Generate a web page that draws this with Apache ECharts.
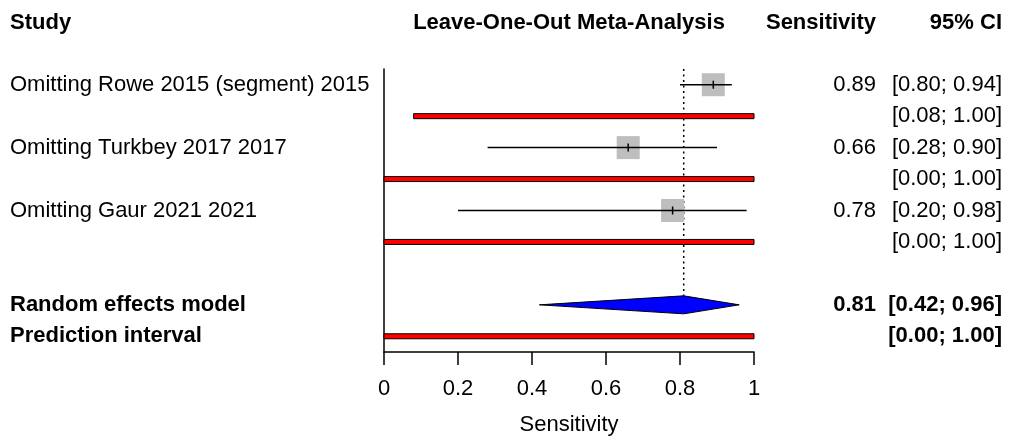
<!DOCTYPE html>
<html>
<head>
<meta charset="utf-8">
<script src="https://cdn.jsdelivr.net/npm/echarts@6/dist/echarts.min.js"></script>
<style>
  html, body { margin: 0; padding: 0; background: #fff; }
  #chart { width: 1009px; height: 436px; }
</style>
</head>
<body>
<div id="chart"></div>
<script>
// Leave-one-out sensitivity estimates
const studies = ['Omitting Rowe 2015 (segment) 2015', 'Omitting Turkbey 2017 2017', 'Omitting Gaur 2021 2021'];
const estimate = [0.89, 0.66, 0.78];
const ciLower = [0.80, 0.28, 0.20];
const ciUpper = [0.94, 0.90, 0.98];
const predLower = [0.08, 0.00, 0.00];
const predUpper = [1.00, 1.00, 1.00];

// Pooled random effects model and its prediction interval
const pooledLabel = 'Random effects model';
const pooledEst = 0.81;
const pooledLower = 0.42;
const pooledUpper = 0.96;
const pooledPredLabel = 'Prediction interval';
const pooledPredLower = 0.00;
const pooledPredUpper = 1.00;

const xTicks = [0, 0.2, 0.4, 0.6, 0.8, 1];

const FONT = '"Liberation Sans", Arial, sans-serif';
const FS = 22;
const X_LABEL = 10;
const X_EST = 876;
const X_CI = 1002;

const fmt = v => v.toFixed(2);
const ciText = (lo, hi) => '[' + fmt(lo) + '; ' + fmt(hi) + ']';

function txt(x, y, s, align, bold) {
  return {
    type: 'text',
    style: {
      x: x, y: y, text: s, align: align, verticalAlign: 'middle',
      fill: '#000', font: (bold ? 'bold ' : '') + FS + 'px ' + FONT
    }
  };
}

// row layout: each study row followed by its prediction-interval row
const studyData = studies.map((s, i) => [i * 2, estimate[i], ciLower[i], ciUpper[i], s]);
const predData = studies.map((s, i) => [i * 2 + 1, predLower[i], predUpper[i]]);
predData.push([8, pooledPredLower, pooledPredUpper, pooledPredLabel]);
const pooledRow = 7;

const chart = echarts.init(document.getElementById('chart'), null, { renderer: 'canvas' });

chart.setOption({
  animation: false,
  backgroundColor: '#fff',
  grid: { left: 384, right: 255, top: 69, bottom: 84, containLabel: false, outerBoundsMode: 'none' },
  xAxis: {
    type: 'value', min: 0, max: 1, interval: 0.2,
    axisLine: { show: true, onZero: false, lineStyle: { color: '#000', width: 1.5 } },
    axisTick: { show: true, length: 13, lineStyle: { color: '#000', width: 1.5 } },
    axisLabel: {
      color: '#000', fontFamily: FONT, fontSize: FS, margin: 26,
      formatter: v => String(xTicks.find(t => Math.abs(t - v) < 1e-9) ?? v)
    },
    splitLine: { show: false },
    name: 'Sensitivity', nameLocation: 'middle', nameGap: 62,
    nameTextStyle: { color: '#000', fontFamily: FONT, fontSize: FS }
  },
  yAxis: {
    type: 'value', min: -0.5, max: 8.5, inverse: true,
    axisLine: { show: true, onZero: false, lineStyle: { color: '#000', width: 1.5 } },
    axisTick: { show: false }, axisLabel: { show: false }, splitLine: { show: false }
  },
  graphic: [
    txt(X_LABEL, 23, 'Study', 'left', true),
    txt(569, 23, 'Leave-One-Out Meta-Analysis', 'center', true),
    txt(X_EST, 23, 'Sensitivity', 'right', true),
    txt(X_CI, 23, '95% CI', 'right', true)
  ],
  series: [
    {
      // dotted line at the pooled estimate, down to the diamond
      type: 'custom', z: 1,
      data: [[pooledEst, pooledRow]],
      renderItem: (params, api) => {
        const top = api.coord([api.value(0), -0.5]);
        const bot = api.coord([api.value(0), api.value(1)]);
        return {
          type: 'line',
          shape: { x1: top[0], y1: top[1], x2: bot[0], y2: bot[1] - 9 },
          style: { stroke: '#000', lineWidth: 1.5, lineDash: [2, 3.5] }
        };
      }
    },
    {
      // individual leave-one-out estimates
      type: 'custom', z: 2,
      data: studyData,
      renderItem: (params, api) => {
        const row = api.value(0);
        const c = api.coord([api.value(1), row]);
        const lo = api.coord([api.value(2), row]);
        const hi = api.coord([api.value(3), row]);
        const sz = 23;
        const i = params.dataIndex;
        return {
          type: 'group',
          children: [
            { type: 'rect', shape: { x: c[0] - sz / 2, y: c[1] - sz / 2, width: sz, height: sz },
              style: { fill: '#BEBEBE' } },
            { type: 'line', shape: { x1: lo[0], y1: c[1], x2: hi[0], y2: c[1] },
              style: { stroke: '#000', lineWidth: 1.5 } },
            { type: 'line', shape: { x1: c[0], y1: c[1] - 4, x2: c[0], y2: c[1] + 4 },
              style: { stroke: '#000', lineWidth: 1.5 } },
            txt(X_LABEL, c[1], studies[i], 'left', false),
            txt(X_EST, c[1], fmt(estimate[i]), 'right', false),
            txt(X_CI, c[1], ciText(ciLower[i], ciUpper[i]), 'right', false)
          ]
        };
      }
    },
    {
      // prediction intervals
      type: 'custom', z: 3,
      data: predData,
      renderItem: (params, api) => {
        const row = api.value(0);
        const lo = api.coord([api.value(1), row]);
        const hi = api.coord([api.value(2), row]);
        const pooled = row === 8;
        const children = [
          { type: 'rect', shape: { x: lo[0], y: lo[1] - 2.5, width: hi[0] - lo[0], height: 5 },
            style: { fill: '#FF0000', stroke: '#000', lineWidth: 1 } },
          txt(X_CI, lo[1], ciText(api.value(1), api.value(2)), 'right', pooled)
        ];
        if (pooled) children.push(txt(X_LABEL, lo[1], pooledPredLabel, 'left', true));
        return { type: 'group', children: children };
      }
    },
    {
      // pooled random effects diamond
      type: 'custom', z: 4,
      data: [[pooledRow, pooledEst, pooledLower, pooledUpper]],
      renderItem: (params, api) => {
        const row = api.value(0);
        const c = api.coord([api.value(1), row]);
        const lo = api.coord([api.value(2), row]);
        const hi = api.coord([api.value(3), row]);
        const h = 9;
        return {
          type: 'group',
          children: [
            { type: 'polygon',
              shape: { points: [[lo[0], c[1]], [c[0], c[1] - h], [hi[0], c[1]], [c[0], c[1] + h]] },
              style: { fill: '#0000FF', stroke: '#000', lineWidth: 1 } },
            txt(X_LABEL, c[1], pooledLabel, 'left', true),
            txt(X_EST, c[1], fmt(pooledEst), 'right', true),
            txt(X_CI, c[1], ciText(pooledLower, pooledUpper), 'right', true)
          ]
        };
      }
    }
  ]
});
</script>
</body>
</html>
